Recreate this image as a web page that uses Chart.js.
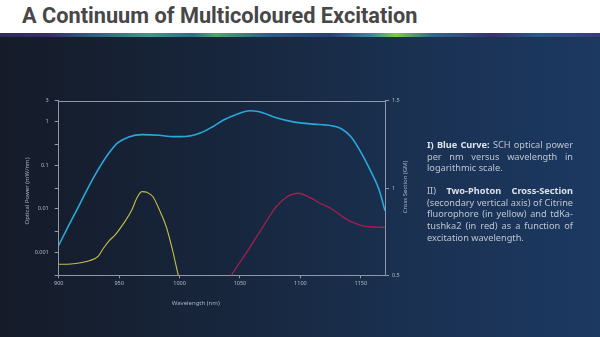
<!DOCTYPE html>
<html>
<head>
<meta charset="utf-8">
<script src="https://cdn.jsdelivr.net/npm/chart.js@4.4.1/dist/chart.umd.min.js"></script>
<style>
  html, body { margin: 0; padding: 0; }
  body { width: 600px; height: 337px; position: relative; overflow: hidden; background: #fff; }
  #title {
    position: absolute; left: 22px; top: 3px;
    font: bold 22px Roboto, "Noto Sans", sans-serif; color: #474747;
    white-space: nowrap; transform-origin: 0 0;
  }
  #strip {
    position: absolute; left: 0; top: 33px; width: 600px; height: 4px;
    background: linear-gradient(to right, #2a2d5a 0%, #3b2a6b 8%, #2c5f80 15%, #3c9a8a 25%, #2c6e8c 32%, #49a86a 36%, #2b5d86 45%, #2a3e78 55%, #3a8a9a 62%, #7ccc48 66%, #2c6b8c 72%, #3b2e6c 82%, #2a5a8a 90%, #3a3a7a 100%);
  }
  #panel {
    position: absolute; left: 0; top: 37px; width: 600px; height: 300px;
    background: linear-gradient(to right, #151b29 0%, #17253b 35%, #1a3152 70%, #1c3962 100%);
  }
  #chart { position: absolute; left: 0; top: 37px; }
  #notes {
    position: absolute; left: 427px; top: 139px; width: 146px;
    font: 9.2px "Noto Sans", sans-serif; line-height: 11.7px; color: #bcc5d1;
    text-align: justify;
  }
  #notes p { margin: 0 0 10.7px 0; }
  #notes b { color: #dce2ea; }
</style>
</head>
<body>
<div id="title">A Continuum of Multicoloured Excitation</div>
<div id="strip"></div>
<div id="panel"></div>
<canvas id="chart" width="430" height="300"></canvas>
<div id="notes">
  <p><b>I) Blue Curve:</b> SCH optical power per nm versus wavelength in logarithmic scale.</p>
  <p>II) <b>Two-Photon Cross-Section</b> (secondary vertical axis) of Citrine fluorophore (in yellow) and tdKa&shy;tushka2 (in red) as a function of excitation wavelength.</p>
</div>
<script>
// SCH optical power (mW/nm), left log axis
const schWavelength = [900, 908, 916, 924.5, 933, 941, 949, 958, 969, 983, 995, 1005, 1017, 1027, 1036, 1047, 1058, 1066, 1080, 1094, 1111, 1120, 1125, 1133.5, 1142, 1150, 1158, 1165, 1170];
const schPower = [0.00145, 0.004, 0.0107, 0.031, 0.082, 0.18, 0.327, 0.443, 0.5, 0.484, 0.45, 0.455, 0.547, 0.75, 1.07, 1.45, 1.76, 1.67, 1.22, 0.98, 0.87, 0.84, 0.81, 0.69, 0.443, 0.2, 0.075, 0.028, 0.009];

// Citrine two-photon cross-section (GM), right axis
const citrineWavelength = [900, 910, 918, 926, 932.8, 937, 942, 946.7, 953, 960.5, 964.5, 968.8, 973, 978, 983, 989, 994, 999, 1002];
const citrineCross = [0.563, 0.565, 0.572, 0.585, 0.61, 0.655, 0.70, 0.731, 0.79, 0.874, 0.94, 0.979, 0.975, 0.95, 0.88, 0.778, 0.65, 0.5, 0.42];

// tdKatushka2 two-photon cross-section (GM), right axis
const katushkaWavelength = [1040, 1043, 1055, 1069, 1080, 1089, 1098, 1108, 1117, 1125, 1133, 1142, 1152.6, 1162, 1170];
const katushkaCross = [0.46, 0.5, 0.626, 0.778, 0.893, 0.95, 0.97, 0.945, 0.91, 0.884, 0.845, 0.807, 0.782, 0.776, 0.775];

const wavelengthTicks = [900, 950, 1000, 1050, 1100, 1150];
const powerTicks = [0.0003, 0.001, 0.003, 0.01, 0.03, 0.1, 0.3, 1, 3];
const powerTickLabels = ['', '0.001', '', '0.01', '', '0.1', '', '1', '3'];
const crossTicks = [0.5, 1, 1.5];
const crossTickLabels = ['0.5', '1', '1.5'];

const axisColor = '#8d99aa';
const labelColor = '#b3bcc8';

// squeeze the heading into its slot
const titleEl = document.getElementById('title');
titleEl.style.transform = 'scaleX(' + (396 / titleEl.offsetWidth) + ')';

const toPoints = (xs, ys) => xs.map((x, i) => ({ x: x, y: ys[i] }));

const tickFont = { family: '"Noto Sans", sans-serif', size: 5.5 };

const frame = {
  id: 'frame',
  afterDraw(chart) {
    const { ctx, chartArea: a } = chart;
    ctx.save();
    ctx.strokeStyle = axisColor;
    ctx.lineWidth = 1;
    ctx.beginPath();
    ctx.moveTo(a.left, Math.round(a.top) + 0.5);
    ctx.lineTo(a.right, Math.round(a.top) + 0.5);
    ctx.stroke();

    ctx.fillStyle = '#a9b3c1';
    ctx.font = '6px "Noto Sans", sans-serif';
    ctx.textAlign = 'center';
    ctx.textBaseline = 'middle';
    ctx.fillText('Wavelength (nm)', a.left + (a.right - a.left) * 0.42, a.bottom + 28);

    const midY = (a.top + a.bottom) / 2;
    ctx.save();
    ctx.translate(27, midY + 3);
    ctx.rotate(-Math.PI / 2);
    ctx.fillText('Optical Power (mW/nm)', 0, 0);
    ctx.restore();

    ctx.save();
    ctx.translate(a.right + 20, midY - 1);
    ctx.rotate(-Math.PI / 2);
    ctx.fillText('Cross Section (GM)', 0, 0);
    ctx.restore();
    ctx.restore();
  }
};

new Chart(document.getElementById('chart'), {
  type: 'line',
  data: {
    datasets: [{
      label: 'SCH',
      data: toPoints(schWavelength, schPower),
      yAxisID: 'y',
      borderColor: '#29a9da',
      borderWidth: 1.6,
      pointRadius: 0,
      cubicInterpolationMode: 'monotone'
    }, {
      label: 'Citrine',
      data: toPoints(citrineWavelength, citrineCross),
      yAxisID: 'y1',
      borderColor: '#c6bf48',
      borderWidth: 1.1,
      pointRadius: 0,
      cubicInterpolationMode: 'monotone'
    }, {
      label: 'tdKatushka2',
      data: toPoints(katushkaWavelength, katushkaCross),
      yAxisID: 'y1',
      borderColor: '#a3204f',
      borderWidth: 1.3,
      pointRadius: 0,
      cubicInterpolationMode: 'monotone'
    }]
  },
  options: {
    responsive: false,
    animation: false,
    layout: { padding: { top: 63.7, bottom: 0, left: 0, right: 0 } },
    plugins: { legend: { display: false }, tooltip: { enabled: false } },
    scales: {
      x: {
        type: 'linear',
        min: 900,
        max: 1170,
        afterBuildTicks: s => { s.ticks = wavelengthTicks.map(v => ({ value: v })); },
        afterFit: s => { s.height = 61.7; },
        grid: { drawOnChartArea: false, drawTicks: true, tickLength: 3, color: axisColor },
        border: { display: true, color: axisColor },
        ticks: { color: labelColor, font: tickFont, padding: 2, maxRotation: 0, callback: v => String(v) }
      },
      y: {
        type: 'logarithmic',
        position: 'left',
        min: 0.0003,
        max: 3,
        afterBuildTicks: s => { s.ticks = powerTicks.map(v => ({ value: v })); },
        afterFit: s => { s.width = 58.7; },
        grid: { drawOnChartArea: false, drawTicks: true, tickLength: 4, color: axisColor },
        border: { display: true, color: axisColor },
        ticks: { color: labelColor, font: tickFont, padding: 6, autoSkip: false, callback: (v, i) => powerTickLabels[i] }
      },
      y1: {
        type: 'linear',
        position: 'right',
        min: 0.5,
        max: 1.5,
        afterBuildTicks: s => { s.ticks = crossTicks.map(v => ({ value: v })); },
        afterFit: s => { s.width = 45; },
        grid: { drawOnChartArea: false, drawTicks: true, tickLength: 4, color: axisColor },
        border: { display: true, color: axisColor },
        ticks: { color: labelColor, font: tickFont, padding: 3, callback: (v, i) => crossTickLabels[i] }
      }
    }
  },
  plugins: [frame]
});
</script>
</body>
</html>
